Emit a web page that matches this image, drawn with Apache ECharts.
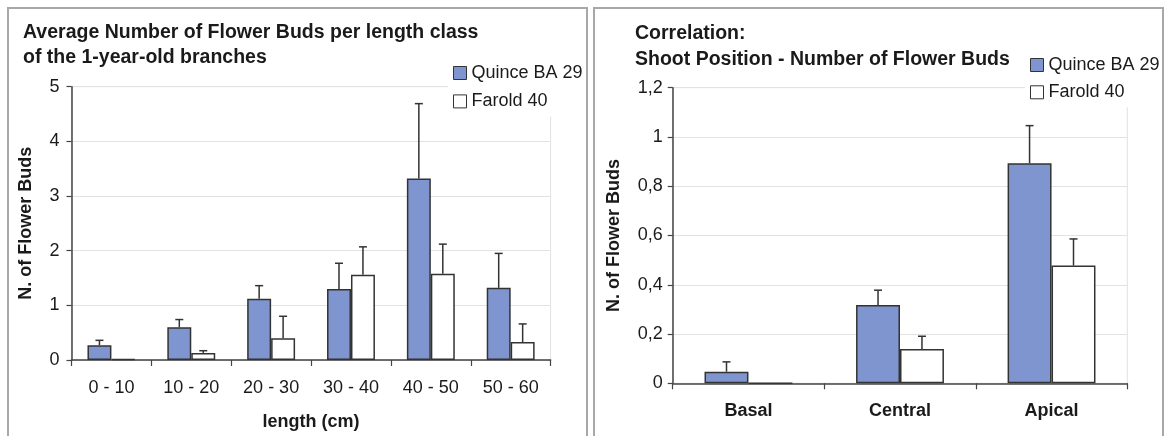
<!DOCTYPE html>
<html>
<head>
<meta charset="utf-8">
<script src="https://cdn.jsdelivr.net/npm/echarts@6/dist/echarts.min.js"></script>
<style>
  html, body { margin: 0; padding: 0; background: #fff; }
  #chart { width: 1166px; height: 436px; }
</style>
</head>
<body>
<div id="chart"></div>
<script>
// ---------- DATA ----------
const seriesNames = ['Quince BA 29', 'Farold 40'];

const lengthClasses = ['0 - 10', '10 - 20', '20 - 30', '30 - 40', '40 - 50', '50 - 60'];
const quinceByLength = [0.27, 0.60, 1.12, 1.30, 3.32, 1.32];
const quinceByLengthErr = [0.09, 0.14, 0.24, 0.47, 1.37, 0.63];
const faroldByLength = [0.02, 0.13, 0.40, 1.56, 1.58, 0.33];
const faroldByLengthErr = [0.00, 0.04, 0.40, 0.51, 0.54, 0.33];

const shootPositions = ['Basal', 'Central', 'Apical'];
const quinceByPosition = [0.047, 0.318, 0.893];
const quinceByPositionErr = [0.040, 0.060, 0.153];
const faroldByPosition = [0, 0.139, 0.478];
const faroldByPositionErr = [0, 0.052, 0.108];

const leftTicks = { min: 0, max: 5, interval: 1 };
const rightTicks = { min: 0, max: 1.2, interval: 0.2 };

// ---------- STYLE ----------
const FONT = 'Liberation Sans, Arial, Helvetica, sans-serif';
const TEXT = '#1a1a1a';
const QUINCE = '#7e95cf';
const FAROLD = '#ffffff';
const EDGE = '#333333';
const AXIS = '#444444';
const GRIDLINE = '#e2e2e2';

function errSeries(name, cats, vals, errs, axisIdx, side, halfBarFrac) {
  return {
    name: name,
    type: 'custom',
    xAxisIndex: axisIdx,
    yAxisIndex: axisIdx,
    z: 5,
    silent: true,
    data: cats.map((c, i) => [i, vals[i], errs[i]]),
    encode: { x: 0, y: 1 },
    renderItem: function (params, api) {
      const e = api.value(2);
      if (!e) return null;
      const base = api.coord([api.value(0), api.value(1)]);
      const top = api.coord([api.value(0), api.value(1) + e]);
      const bw = api.size([1, 0])[0];
      const x = base[0] + side * bw * halfBarFrac;
      const cap = 4;
      const st = { stroke: EDGE, lineWidth: 1.5 };
      return {
        type: 'group',
        children: [
          { type: 'line', shape: { x1: x, y1: base[1], x2: x, y2: top[1] }, style: st },
          { type: 'line', shape: { x1: x - cap, y1: top[1], x2: x + cap, y2: top[1] }, style: st }
        ]
      };
    }
  };
}

function yAxisBase(idx, ticks, margin, nameGap, formatter) {
  return {
    type: 'value',
    gridIndex: idx,
    min: ticks.min, max: ticks.max, interval: ticks.interval,
    name: 'N. of Flower Buds',
    nameLocation: 'middle',
    nameGap: nameGap,
    nameTextStyle: { fontFamily: FONT, fontSize: 18, fontWeight: 'bold', color: TEXT },
    axisLine: { show: true, lineStyle: { color: AXIS, width: 1.5 } },
    axisTick: { show: true, length: 5, lineStyle: { color: AXIS, width: 1.2 } },
    axisLabel: { fontFamily: FONT, fontSize: 18, color: TEXT, margin: margin, formatter: formatter },
    splitLine: { show: true, lineStyle: { color: GRIDLINE, width: 1 } }
  };
}

const option = {
  backgroundColor: '#ffffff',
  animation: false,
  graphic: [
    { type: 'rect', shape: { x: 8, y: 8, width: 579, height: 450 }, style: { fill: 'none', stroke: '#a8a8a8', lineWidth: 2 }, silent: true, z: 100 },
    { type: 'rect', shape: { x: 594, y: 8, width: 569, height: 450 }, style: { fill: 'none', stroke: '#a8a8a8', lineWidth: 2 }, silent: true, z: 100 }
  ],
  title: [
    {
      text: 'Average Number of Flower Buds per length class\nof the 1-year-old branches',
      left: 23, top: 20, padding: 0,
      textStyle: { fontFamily: FONT, fontSize: 19.5, fontWeight: 'bold', color: TEXT, lineHeight: 25 }
    },
    {
      text: 'Correlation:\nShoot Position - Number of Flower Buds',
      left: 635, top: 21, padding: 0,
      textStyle: { fontFamily: FONT, fontSize: 19.5, fontWeight: 'bold', color: TEXT, lineHeight: 25.6 }
    }
  ],
  legend: [
    {
      data: seriesNames, orient: 'vertical', left: 448, top: 59,
      padding: [5, 2, 6, 5], backgroundColor: '#ffffff',
      itemWidth: 13, itemHeight: 13, itemGap: 10.4, icon: 'rect', z: 10,
      itemStyle: { borderColor: EDGE, borderWidth: 1 },
      textStyle: { fontFamily: FONT, fontSize: 18, color: TEXT }
    },
    {
      data: seriesNames, orient: 'vertical', left: 1025, top: 51,
      padding: [5, 1, 6, 5], backgroundColor: '#ffffff',
      itemWidth: 13, itemHeight: 13, itemGap: 9.3, icon: 'rect', z: 10,
      itemStyle: { borderColor: EDGE, borderWidth: 1 },
      textStyle: { fontFamily: FONT, fontSize: 18, color: TEXT }
    }
  ],
  grid: [
    { left: 71.5, top: 86.7, width: 479.1, height: 273.8, show: true, borderColor: GRIDLINE, borderWidth: 1, backgroundColor: 'transparent' },
    { left: 672.7, top: 87.7, width: 454.6, height: 295.6, show: true, borderColor: GRIDLINE, borderWidth: 1, backgroundColor: 'transparent' }
  ],
  xAxis: [
    {
      type: 'category', gridIndex: 0, data: lengthClasses,
      name: 'length (cm)', nameLocation: 'middle', nameGap: 53,
      nameTextStyle: { fontFamily: FONT, fontSize: 18, fontWeight: 'bold', color: TEXT },
      axisLine: { lineStyle: { color: AXIS, width: 1.5 } },
      axisTick: { show: true, length: 6, lineStyle: { color: AXIS, width: 1.2 } },
      axisLabel: { fontFamily: FONT, fontSize: 18, color: TEXT, margin: 19 },
      splitLine: { show: false }
    },
    {
      type: 'category', gridIndex: 1, data: shootPositions,
      axisLine: { lineStyle: { color: AXIS, width: 1.5 } },
      axisTick: { show: true, length: 6, lineStyle: { color: AXIS, width: 1.2 } },
      axisLabel: { fontFamily: FONT, fontSize: 18, fontWeight: 'bold', color: TEXT, margin: 19 },
      splitLine: { show: false }
    }
  ],
  yAxis: [
    yAxisBase(0, leftTicks, 12, 36, v => String(v)),
    yAxisBase(1, rightTicks, 10, 50, v => String(+v.toFixed(1)).replace('.', ','))
  ],
  series: [
    {
      name: seriesNames[0], type: 'bar', xAxisIndex: 0, yAxisIndex: 0,
      data: quinceByLength, barGap: '0%', barCategoryGap: '40%',
      itemStyle: { color: QUINCE, borderColor: EDGE, borderWidth: 1.5 }
    },
    {
      name: seriesNames[1], type: 'bar', xAxisIndex: 0, yAxisIndex: 0,
      data: faroldByLength, barGap: '0%', barCategoryGap: '40%',
      itemStyle: { color: FAROLD, borderColor: EDGE, borderWidth: 1.5 }
    },
    {
      name: seriesNames[0], type: 'bar', xAxisIndex: 1, yAxisIndex: 1,
      data: quinceByPosition, barGap: '0%', barCategoryGap: '42%',
      itemStyle: { color: QUINCE, borderColor: EDGE, borderWidth: 1.5 }
    },
    {
      name: seriesNames[1], type: 'bar', xAxisIndex: 1, yAxisIndex: 1,
      data: faroldByPosition, barGap: '0%', barCategoryGap: '42%',
      itemStyle: { color: FAROLD, borderColor: EDGE, borderWidth: 1.5 }
    },
    errSeries('err-q-len', lengthClasses, quinceByLength, quinceByLengthErr, 0, -1, 0.15),
    errSeries('err-f-len', lengthClasses, faroldByLength, faroldByLengthErr, 0, 1, 0.15),
    errSeries('err-q-pos', shootPositions, quinceByPosition, quinceByPositionErr, 1, -1, 0.145),
    errSeries('err-f-pos', shootPositions, faroldByPosition, faroldByPositionErr, 1, 1, 0.145)
  ]
};

const chart = echarts.init(document.getElementById('chart'), null, { renderer: 'canvas' });
chart.setOption(option);
</script>
</body>
</html>
